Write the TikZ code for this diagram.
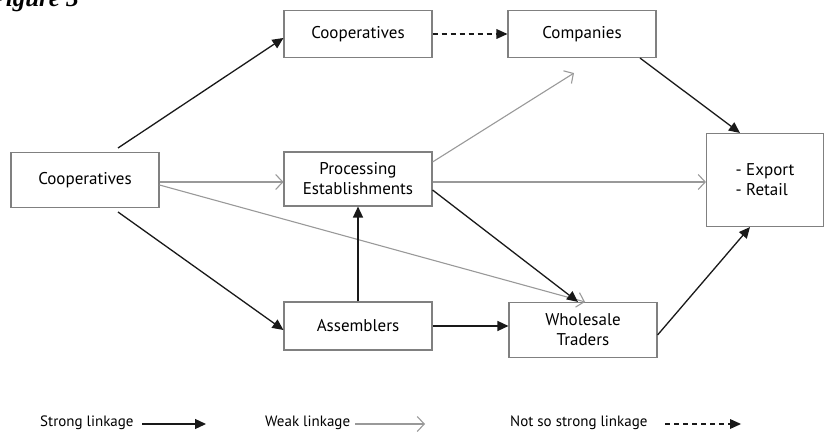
\documentclass[tikz,border=0pt]{standalone}
\usepackage{fontspec}
\setmainfont{PT Sans}
\newfontfamily\titlefont{Liberation Serif}
\usetikzlibrary{arrows.meta}

\begin{document}
\begin{tikzpicture}[x=1pt,y=-1pt,
  box/.style={draw=black!50, line width=1.1pt, fill=white, minimum width=148pt, align=center, font=\fontsize{17}{20}\selectfont, inner sep=0pt},
  strong/.style={draw=black!90, line width=1.3pt, -{Triangle[length=11pt,width=10pt]}},
  weak/.style={draw=black!40, line width=1.1pt, -{Straight Barb[length=7pt,width=15pt]}},
  notso/.style={draw=black!90, line width=1.3pt, dash pattern=on 5pt off 4pt, -{Triangle[length=11pt,width=10pt,line width=0pt]}},
  legend/.style={font=\fontsize{15}{18}\selectfont, anchor=west, inner sep=0pt}]
\useasboundingbox (0,0) rectangle (825,441);
\node[font=\titlefont\bfseries\itshape\fontsize{25}{27}\selectfont, anchor=base east, inner sep=0pt] (title) at (79,7) {Figure 3};

\node[box, minimum height=55pt] (coopleft) at (85,180) {Cooperatives};
\node[box, minimum height=47pt] (cooptop) at (358,34) {Cooperatives};
\node[box, minimum height=47pt] (companies) at (582,34) {Companies};
\node[box, minimum height=54pt] (processing) at (358,179) {Processing\\Establishments};
\node[box, minimum height=93pt, minimum width=117pt, align=left] (export) at (765,180) {- Export\\- Retail};
\node[box, minimum height=48pt] (assemblers) at (358,326) {Assemblers};
\node[box, minimum height=55pt] (wholesale) at (583,330) {Wholesale\\Traders};

\coordinate (c1) at (118,148);
\coordinate (c2) at (118,212);
\draw[strong] (c1) -- (cooptop.west |- 0,38) ;
\draw[strong] (c2) -- (assemblers.west |- 0,330);
\draw[weak] (coopleft.east |- 0,182) -- (processing.west |- 0,182);
\draw[weak] (coopleft.east |- 0,185) -- ([xshift=2pt]wholesale.north);
\draw[notso] (cooptop.east) -- (companies.west);
\draw[strong] ([xshift=58pt]companies.south) -- ([xshift=-25pt]export.north);
\draw[weak] (processing.east |- 0,162) -- ([xshift=-8pt,yshift=-15pt]companies.south);
\draw[weak] (processing.east |- 0,182) -- (export.west |- 0,182);
\draw[strong] (processing.east |- 0,190) -- ([xshift=-5pt]wholesale.north);
\draw[strong] (assemblers.north) -- (processing.south);
\draw[strong] (assemblers.east) -- (wholesale.west |- assemblers.east);
\draw[strong] ([yshift=-5pt]wholesale.north east |- 0,330) -- ([xshift=-15pt]export.south);

\node[legend] (lstrong) at (40,423) {Strong linkage};
\node[legend] (lweak) at (265,423) {Weak linkage};
\node[legend] (lnotso) at (510,423) {Not so strong linkage};
\coordinate (s1) at (142,424); \coordinate (s2) at (206,424);
\coordinate (w1) at (355,424); \coordinate (w2) at (425,424);
\coordinate (n1) at (665,424); \coordinate (n2) at (741,424);
\draw[strong] (s1) -- (s2);
\draw[weak] (w1) -- (w2);
\draw[notso] (n1) -- (n2);
\end{tikzpicture}
\end{document}
